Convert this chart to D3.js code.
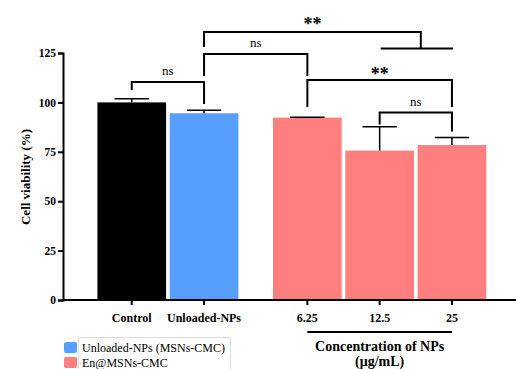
<!DOCTYPE html>
<html><head><meta charset="utf-8">
<script src="https://cdn.jsdelivr.net/npm/d3@7"></script>
<style>body{margin:0;background:#fff}svg{display:block}svg text{font-family:"Liberation Serif","Times New Roman",Times,serif !important}</style>
</head><body>
<script>
const categories = ["Control","Unloaded-NPs","6.25","12.5","25"];
const groups = ["control","unloaded","en","en","en"];
const means = [100, 94.5, 92.3, 75.6, 78.4];
const errors = [1.9, 1.5, 0.2, 12.1, 3.9];
const yTicks = [0,25,50,75,100,125];
const legendLabels = ["Unloaded-NPs (MSNs-CMC)","En@MSNs-CMC"];
const colors = {control:"#000000", unloaded:"#579FFF", en:"#FF7F7F"};

const W=516,H=369;
const svg=d3.select("body").append("svg").attr("width",W).attr("height",H);
const font="Liberation Serif";
const y=d3.scaleLinear().domain([0,125]).range([300,53]);
const gap=31;
const xb=d3.scaleBand().domain(categories).range([97.4,455.3]).paddingInner(0.05).paddingOuter(0);
const xc=(c,i)=>xb(c)+xb.bandwidth()/2+(i>=2?gap:0);
const bw=xb.bandwidth();

// bars
categories.forEach((c,i)=>{
  svg.append("rect").attr("x",xc(c,i)-bw/2).attr("y",y(means[i]))
    .attr("width",bw).attr("height",y(0)-y(means[i])).attr("fill",colors[groups[i]]);
  const cx=xc(c,i), top=y(means[i]+errors[i]);
  svg.append("line").attr("x1",cx).attr("x2",cx).attr("y1",y(means[i])).attr("y2",top).attr("stroke","#000").attr("stroke-width",1.5);
  svg.append("line").attr("x1",cx-bw/4).attr("x2",cx+bw/4).attr("y1",top).attr("y2",top).attr("stroke","#000").attr("stroke-width",1.5);
});

// axes
const yAxis=d3.axisLeft(y).tickValues(yTicks).tickSize(5).tickPadding(2);
const gy=svg.append("g").attr("transform","translate(63,0)").call(yAxis);
gy.attr("font-family",font);
gy.select(".domain").attr("stroke-width",2);
gy.selectAll(".tick line").attr("stroke-width",2);
gy.selectAll("text").attr("font-weight","bold").attr("font-size",11.5).attr("fill","#000");

svg.append("line").attr("x1",62).attr("x2",516).attr("y1",300).attr("y2",300).attr("stroke","#000").attr("stroke-width",2);
categories.forEach((c,i)=>{
  const cx=xc(c,i);
  svg.append("line").attr("x1",cx).attr("x2",cx).attr("y1",300).attr("y2",305).attr("stroke","#000").attr("stroke-width",2);
  svg.append("text").attr("x",cx).attr("y",321.5).attr("text-anchor","middle")
    .attr("font-weight","bold").attr("font-size",12).text(c);
});

svg.append("text").attr("transform","translate(30,177) rotate(-90)").attr("text-anchor","middle")
  .attr("font-weight","bold").attr("font-size",13).text("Cell viability (%)");

// concentration group line
svg.append("line").attr("x1",xc(categories[2],2)).attr("x2",xc(categories[4],4)).attr("y1",332).attr("y2",332).attr("stroke","#000").attr("stroke-width",2);
const gcx=(xc(categories[2],2)+xc(categories[4],4))/2;
svg.append("text").attr("x",gcx).attr("y",350.5).attr("text-anchor","middle").attr("font-weight","bold").attr("font-size",14).text("Concentration of NPs");
svg.append("text").attr("x",gcx).attr("y",366).attr("text-anchor","middle").attr("font-weight","bold").attr("font-size",14).text("(μg/mL)");

// brackets
const brk=(x1,x2,yh,y1b,y2b)=>{
  svg.append("path").attr("d",`M${x1},${y1b}V${yh}H${x2}V${y2b}`).attr("fill","none").attr("stroke","#000").attr("stroke-width",2);
};
const lab=(x,yy,t)=>svg.append("text").attr("x",x).attr("y",yy).attr("text-anchor","middle")
  .attr("font-size",t==="**"?18:13).attr("font-weight",t==="**"?"bold":"normal").text(t);
const X=i=>xc(categories[i],i);
brk(X(0),X(1),82,90,104);
lab((X(0)+X(1))/2,75,"ns");
brk(X(1),X(2),54,76,76);
lab((X(1)+X(2))/2,47,"ns");
brk(X(2),X(4),80,107,107);
lab((X(2)+X(4))/2,80,"**");
brk(X(3),X(4),112.5,124.5,131.5);
lab((X(3)+X(4))/2,106,"ns");
const rx=(X(3)+X(4))/2+5;
brk(X(1),rx,32,47,48.5);
svg.append("line").attr("x1",X(3)+1).attr("x2",X(4)+1).attr("y1",48.5).attr("y2",48.5).attr("stroke","#000").attr("stroke-width",2);
lab((X(1)+rx)/2,30,"**");

// legend
svg.append("rect").attr("x",78.5).attr("y",337.5).attr("width",152).attr("height",40).attr("fill","#fff").attr("stroke","#ddd");
legendLabels.forEach((l,i)=>{
  const c=i===0?colors.unloaded:colors.en;
  svg.append("rect").attr("x",64).attr("y",342+i*15).attr("width",13).attr("height",11).attr("rx",2).attr("fill",c);
  svg.append("text").attr("x",82).attr("y",351.5+i*15).attr("font-size",12).text(l);
});
</script>
</body></html>
